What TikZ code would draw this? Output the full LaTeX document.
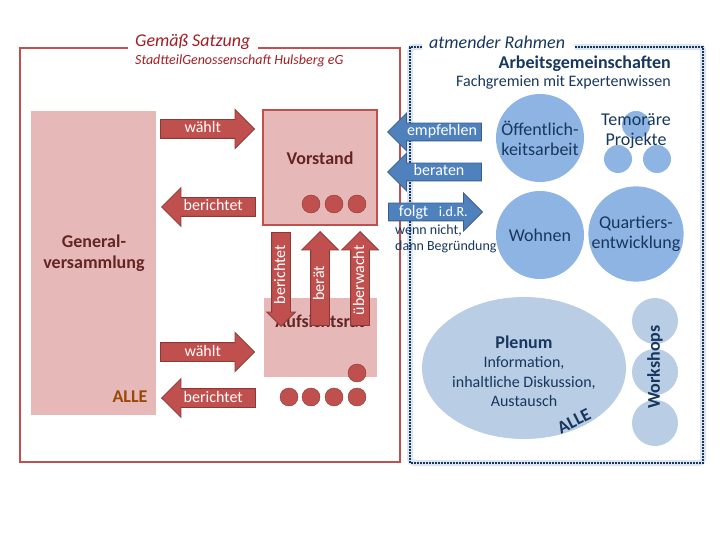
\documentclass[tikz,border=0pt]{standalone}
\usepackage{fontspec}
\setmainfont{Carlito}
\usetikzlibrary{shapes.arrows, shapes.geometric}

\definecolor{redfill}{HTML}{C0504D}
\definecolor{redline}{HTML}{8C3836}
\definecolor{pinkfill}{HTML}{E6B9B8}
\definecolor{darkred}{HTML}{632523}
\definecolor{titlered}{HTML}{A31D22}
\definecolor{alleorange}{HTML}{984807}
\definecolor{bluefill}{HTML}{4F81BD}
\definecolor{blueline}{HTML}{385D8A}
\definecolor{circblue}{HTML}{8EB4E3}
\definecolor{paleblue}{HTML}{B9CDE5}
\definecolor{navy}{HTML}{17375E}
\definecolor{bandblue}{HTML}{DCE6F2}

\tikzset{
  redarrow/.style={single arrow, draw=redline, fill=redfill, text=white, thick,
    single arrow head extend=10pt, minimum height=94pt, inner ysep=2pt,
    text width=64pt, align=center,
    text height=11pt, text depth=3pt, font=\fontsize{16}{18}\selectfont},
  bluearrow/.style={redarrow, draw=blueline, fill=bluefill, inner ysep=1.5pt},
  dot/.style={circle, draw=redline, fill=redfill, minimum size=18pt, inner sep=0pt},
  gremium/.style={text=darkred, font=\bfseries\fontsize{18}{21}\selectfont, align=center},
  ag/.style={circle, fill=circblue, minimum size=88pt, inner sep=0pt, text=navy,
    align=center, font=\fontsize{18}{20}\selectfont},
  small ag/.style={circle, fill=circblue, minimum size=28pt, inner sep=0pt},
  workshop/.style={circle, fill=paleblue, minimum size=46pt, inner sep=0pt},
}

\begin{document}
\begin{tikzpicture}[x=1pt, y=-1pt]
  \useasboundingbox (0,0) rectangle (720,540);

  % Rahmen: Gemaess Satzung
  \draw[redfill, line width=2pt] (128,48) -- (20,48) -- (20,462) -- (400,462) -- (400,48) -- (258,48);
  \node[titlered, anchor=west, inner sep=1pt, font=\itshape\fontsize{18}{20}\selectfont] (satzung) at (134,42) {Gemäß Satzung};
  \node[titlered, anchor=west, inner sep=1pt, font=\itshape\fontsize{14}{16}\selectfont] (genossen) at (134,61) {StadtteilGenossenschaft Hulsberg eG};

  % Rahmen: atmender Rahmen
  \draw[bandblue, line width=6pt, rounded corners=4pt] (422,47) -- (410,47) -- (410,463) -- (703,463) -- (703,47) -- (575,47);
  \draw[navy, line width=2pt, densely dotted] (422,47) -- (410,47) -- (410,463) -- (703,463) -- (703,47) -- (575,47);
  \node[navy, anchor=west, inner sep=1pt, font=\itshape\fontsize{18}{20}\selectfont] (rahmen) at (428,42) {atmender Rahmen};

  % Generalversammlung
  \fill[pinkfill] (31,111) rectangle (156,415);
  \node[gremium] (gv) at (94,253) {General-\\versammlung};
  \node[text=alleorange, font=\bfseries\fontsize{18}{20}\selectfont] (gvalle) at (130,397) {ALLE};

  % Vorstand
  \draw[redfill, fill=pinkfill, line width=1.5pt] (263,110) rectangle (377,225);
  \node[gremium] (vorstand) at (320,158) {Vorstand};
  \foreach \x [count=\i] in {311,334,357}
    \node[dot] (vdot\i) at (\x,204) {};

  % Aufsichtsrat
  \fill[pinkfill] (264,298) rectangle (377,377);
  \node[gremium] (ar) at (320,321) {Aufsichtsrat};
  \node[dot] (adot0) at (357,373) {};
  \foreach \x [count=\i] in {289,311,334,357}
    \node[dot] (adot\i) at (\x,397) {};

  % Pfeile zwischen den Organen
  \node[redarrow, anchor=tip] (waehlt1) at (255,129) {wählt};
  \node[redarrow, shape border rotate=180, anchor=tip] (bericht1) at (161,207) {berichtet};
  \node[redarrow, anchor=tip] (waehlt2) at (255,352) {wählt};
  \node[redarrow, shape border rotate=180, anchor=tip] (bericht2) at (161,398) {berichtet};

  \node[redarrow, rotate=90, shape border rotate=180, single arrow head extend=5pt, anchor=tip] (bericht3) at (281,327) {berichtet};
  \node[redarrow, rotate=90, single arrow head extend=9pt, anchor=tip] (beraet) at (320,231) {berät};
  \node[redarrow, rotate=90, single arrow head extend=9pt, anchor=tip] (ueberwacht) at (360,231) {überwacht};

  % Pfeile der Arbeitsgemeinschaften
  \node[bluearrow, shape border rotate=180, anchor=tip] (empfehlen) at (387,132) {empfehlen};
  \node[bluearrow, shape border rotate=180, anchor=tip] (beraten) at (387,172) {beraten};
  \node[bluearrow, anchor=tip] (folgt) at (483,212) {folgt~~{\fontsize{14}{16}\selectfont i.d.R.}};
  \node[navy, anchor=north west, align=left, inner sep=1pt, font=\fontsize{14}{16}\selectfont] (wennnicht) at (394,224) {wenn nicht,\\dann Begründung};

  % Arbeitsgemeinschaften
  \node[navy, anchor=east, inner sep=1pt, font=\bfseries\fontsize{18}{20}\selectfont] (agtitel) at (672,64) {Arbeitsgemeinschaften};
  \node[navy, anchor=east, inner sep=1pt, font=\fontsize{16}{18}\selectfont] (agsub) at (672,82) {Fachgremien mit Expertenwissen};

  \node[ag] (oeff) at (540,138) {Öffentlich-\\keitsarbeit};
  \node[ag] (wohnen) at (540,235) {Wohnen};
  \node[ag] (quartier) at (636,234) {Quartiers-\\entwicklung};

  \node[small ag] (proj1) at (636,125) {};
  \node[small ag] (proj2) at (618,159) {};
  \node[small ag] (proj3) at (657,159) {};
  \node[text=navy, align=center, font=\fontsize{18}{20}\selectfont] (projekte) at (636,131) {Temoräre\\Projekte};

  % Plenum und Workshops
  \fill[paleblue] (524,368) ellipse (102 and 71);
  \node[text=navy, align=center, font=\fontsize{16}{19.5}\selectfont] (plenum) at (524,371)
    {{\bfseries\fontsize{18}{20}\selectfont Plenum}\\Information,\\inhaltliche Diskussion,\\Austausch};
  \node[text=navy, rotate=27, inner sep=1pt, font=\bfseries\fontsize{18}{20}\selectfont] (plenumalle) at (574,421) {ALLE};

  \foreach \y [count=\i] in {321,372,423}
    \node[workshop] (ws\i) at (655,\y) {};
  \node[text=navy, rotate=90, font=\bfseries\fontsize{18}{20}\selectfont] (workshops) at (655,367) {Workshops};

\end{tikzpicture}
\end{document}
